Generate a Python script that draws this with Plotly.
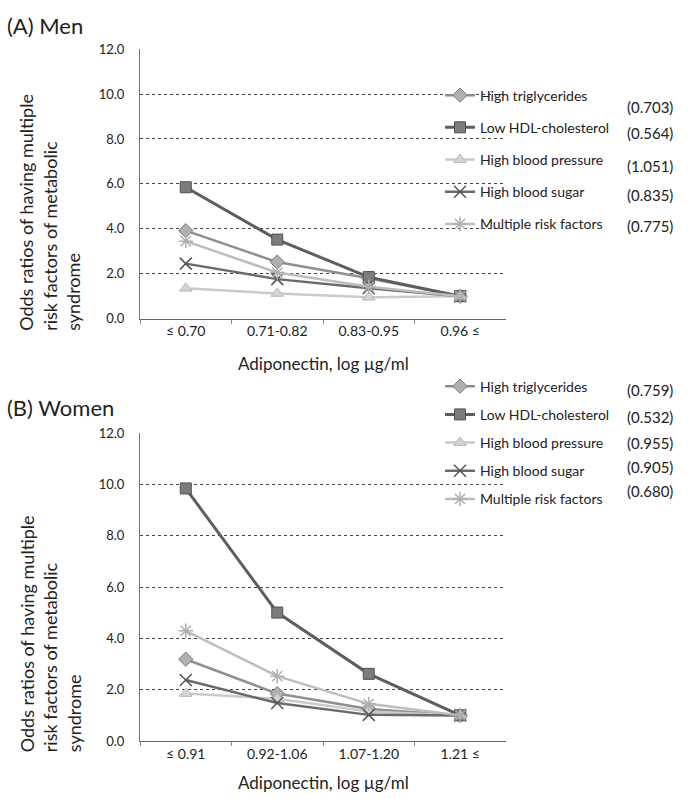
import plotly.graph_objects as go

# ---- data ----
cats_men = ["≤ 0.70", "0.71-0.82", "0.83-0.95", "0.96 ≤"]
cats_women = ["≤ 0.91", "0.92-1.06", "1.07-1.20", "1.21 ≤"]
series_names = ["High triglycerides", "Low HDL-cholesterol", "High blood pressure",
                "High blood sugar", "Multiple risk factors"]

tg_m = [3.92, 2.52, 1.80, 1.00]
hdl_m = [5.85, 3.52, 1.85, 1.00]
bp_m = [1.35, 1.12, 0.95, 1.00]
sugar_m = [2.45, 1.76, 1.35, 1.00]
multi_m = [3.45, 2.05, 1.42, 1.00]

tg_w = [3.19, 1.85, 1.25, 1.00]
hdl_w = [9.85, 5.01, 2.62, 1.00]
bp_w = [1.85, 1.65, 1.15, 1.00]
sugar_w = [2.38, 1.48, 1.02, 1.00]
multi_w = [4.30, 2.53, 1.45, 1.00]

or_men = ["(0.703)", "(0.564)", "(1.051)", "(0.835)", "(0.775)"]
or_women = ["(0.759)", "(0.532)", "(0.955)", "(0.905)", "(0.680)"]

yticks = [0, 2, 4, 6, 8, 10, 12]

# ---- styles ----
styles = [
    dict(line=dict(color="#8f8f8f", width=2.5),
         marker=dict(symbol="diamond", size=11, color="#b0b0b0", line=dict(color="#7a7a7a", width=1))),
    dict(line=dict(color="#5e5e5e", width=3),
         marker=dict(symbol="square", size=11, color="#7c7c7c", line=dict(color="#505050", width=1))),
    dict(line=dict(color="#cacaca", width=2.5),
         marker=dict(symbol="triangle-up", size=11, color="#d4d4d4", line=dict(color="#b8b8b8", width=1))),
    dict(line=dict(color="#6a6a6a", width=2.5),
         marker=dict(symbol="x-thin-open", size=12, color="#555555", line=dict(color="#555555", width=1.5))),
    dict(line=dict(color="#bdbdbd", width=2.5),
         marker=dict(symbol="asterisk-open", size=12, color="#b0b0b0", line=dict(color="#a8a8a8", width=1.5))),
]

fig = go.Figure()

men = [tg_m, hdl_m, bp_m, sugar_m, multi_m]
women = [tg_w, hdl_w, bp_w, sugar_w, multi_w]

for i, (name, vals) in enumerate(zip(series_names, men)):
    fig.add_trace(go.Scatter(x=cats_men, y=vals, mode="lines+markers", name=name,
                             xaxis="x", yaxis="y", legend="legend", legendgroup="m%d" % i,
                             **styles[i]))
for i, (name, vals) in enumerate(zip(series_names, women)):
    fig.add_trace(go.Scatter(x=cats_women, y=vals, mode="lines+markers", name=name,
                             xaxis="x2", yaxis="y2", legend="legend2", legendgroup="w%d" % i,
                             **styles[i]))

W, H = 690, 799
xdom = [140 / W, 506 / W]
ydom1 = [1 - 317 / H, 1 - 42 / H]
ydom2 = [1 - 748 / H, 1 - 434 / H]

font_family = "Lato, Open Sans, sans-serif"

axis_common = dict(showgrid=False, showline=True, linecolor="#666666", zeroline=False,
                   ticks="outside", tickson="boundaries", ticklen=4, tickcolor="#888888",
                   tickfont=dict(size=14, family=font_family, color="#222"),
                   range=[-0.5, 3.5], type="category")
yaxis_common = dict(range=[0, 12], tickvals=yticks, tickformat=".1f", showgrid=True,
                    gridcolor="#444444", griddash="dot", gridwidth=1, zeroline=False,
                    showline=True, linecolor="#777777", ticks="", ticklabelstandoff=12,
                    tickfont=dict(size=13, family=font_family, color="#222"))

fig.update_layout(
    width=W, height=H, margin=dict(l=0, r=0, t=0, b=0),
    paper_bgcolor="white", plot_bgcolor="white",
    font=dict(family=font_family, color="#222"),
    xaxis=dict(domain=xdom, anchor="y", **axis_common),
    yaxis=dict(domain=ydom1, anchor="x", **yaxis_common),
    xaxis2=dict(domain=xdom, anchor="y2", **axis_common),
    yaxis2=dict(domain=ydom2, anchor="x2", **yaxis_common),
    legend=dict(x=440 / W, y=1 - 73 / H, xanchor="left", yanchor="top",
                bgcolor="rgba(0,0,0,0)", font=dict(size=14, family=font_family),
                tracegroupgap=11, itemwidth=30),
    legend2=dict(x=440 / W, y=1 - 370 / H, xanchor="left", yanchor="top",
                 bgcolor="rgba(0,0,0,0)", font=dict(size=14, family=font_family),
                 tracegroupgap=7, itemwidth=30),
    showlegend=True,
)

ann = []
ann.append(dict(text="(A) Men", x=5 / W, y=1 - 18 / H, xref="paper", yref="paper",
                xanchor="left", yanchor="middle", showarrow=False, font=dict(size=22)))
ann.append(dict(text="(B) Women", x=5 / W, y=1 - 408 / H, xref="paper", yref="paper",
                xanchor="left", yanchor="middle", showarrow=False, font=dict(size=22)))
ylab = "Odds ratios of having multiple<br>risk factors of metabolic<br>syndrome"
for ybot in (332, 762):
    ann.append(dict(text=ylab, x=50 / W, y=1 - ybot / H, xref="paper", yref="paper",
                    xanchor="center", yanchor="bottom", textangle=-90, align="left",
                    showarrow=False, font=dict(size=18)))
for yc in (363, 790):
    ann.append(dict(text="Adiponectin, log µg/ml", x=323 / W, y=1 - yc / H, xref="paper",
                    yref="paper", xanchor="center", yanchor="middle", showarrow=False,
                    font=dict(size=17)))
for txt, yc in zip(or_men, [101, 128, 161, 191, 222]):
    ann.append(dict(text=txt, x=650 / W, y=1 - yc / H, xref="paper", yref="paper",
                    xanchor="center", yanchor="middle", showarrow=False, font=dict(size=15)))
for txt, yc in zip(or_women, [390, 417, 444, 468, 493]):
    ann.append(dict(text=txt, x=650 / W, y=1 - yc / H, xref="paper", yref="paper",
                    xanchor="center", yanchor="middle", showarrow=False, font=dict(size=15)))
fig.update_layout(annotations=ann)

fig.write_html("out.html")
